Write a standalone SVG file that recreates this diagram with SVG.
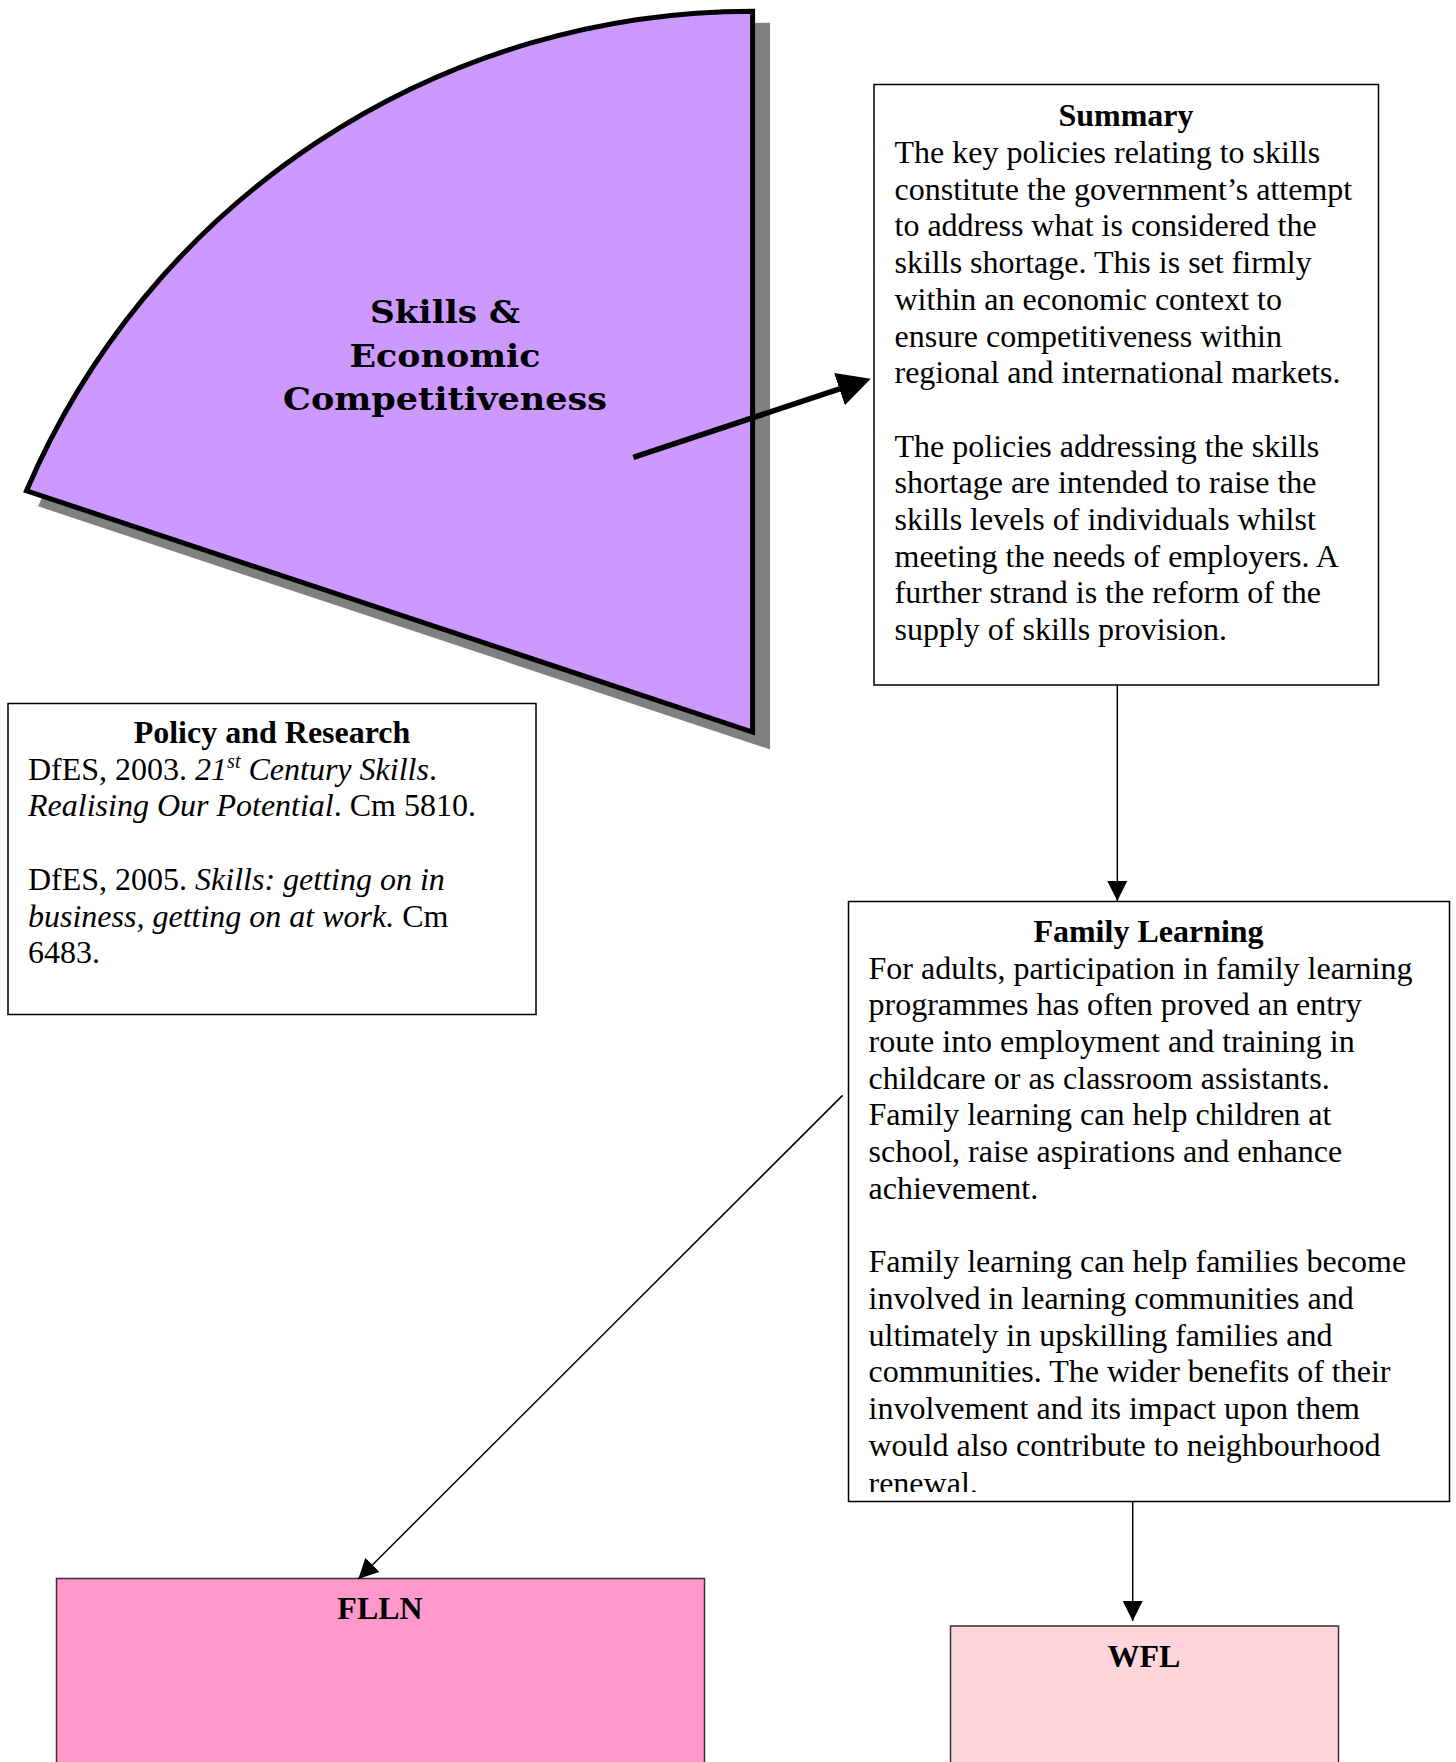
<svg xmlns="http://www.w3.org/2000/svg" width="1456" height="1762" viewBox="0 0 1456 1762">
  <style>
    .box { fill: #ffffff; stroke: #000000; stroke-width: 1.5; }
    .t { font-family: "Liberation Serif", "Times New Roman", serif; font-size: 32px; fill: #000000; }
    .title { font-family: "Liberation Serif", "Times New Roman", serif; font-size: 32px; font-weight: bold; text-anchor: middle; fill: #000000; }
    .sector-label { font-family: "DejaVu Serif", serif; font-size: 31px; font-weight: bold; text-anchor: middle; fill: #000000; }
    .conn { stroke: #000000; stroke-width: 1.5; fill: none; }
    .conn-thick { stroke: #000000; stroke-width: 5.5; fill: none; }
    .i { font-style: italic; }
  </style>
  <defs>
    <marker id="arrow" markerUnits="userSpaceOnUse" markerWidth="21" markerHeight="21" refX="20" refY="10" orient="auto">
      <path d="M0,0 L20,10 L0,20 Z" fill="#000000"/>
    </marker>
    <marker id="arrow-thick" markerUnits="userSpaceOnUse" markerWidth="36" markerHeight="36" refX="1" refY="17" orient="auto">
      <path d="M0,0 L33,17 L0,34 Z" fill="#000000"/>
    </marker>
    <clipPath id="fl-clip">
      <rect x="848" y="900" width="602" height="592"/>
    </clipPath>
  </defs>

  <!-- Sector node -->
  <g id="skills-sector">
    <path d="M767.6,25.2 L767.6,746 L41.5,504.8 A789.4 789.4 0 0 1 767.6,25.2 Z" fill="#808080" stroke="#808080" stroke-width="5"/>
    <path d="M752.6,11.2 L752.6,732 L26.5,490.8 A789.4 789.4 0 0 1 752.6,11.2 Z" fill="#CC99FF" stroke="#000000" stroke-width="5" stroke-linejoin="miter"/>
    <text class="sector-label" x="445" y="323" textLength="150" lengthAdjust="spacingAndGlyphs">Skills &amp;</text>
    <text class="sector-label" x="445" y="366.5" textLength="191" lengthAdjust="spacingAndGlyphs">Economic</text>
    <text class="sector-label" x="445" y="410" textLength="324" lengthAdjust="spacingAndGlyphs">Competitiveness</text>
  </g>

  <!-- Summary node -->
  <g id="summary">
    <rect class="box" x="874" y="84.5" width="504.5" height="600.5"/>
    <text class="title" x="1126" y="126">Summary</text>
    <text class="t" x="894.5" y="163">The key policies relating to skills</text>
    <text class="t" x="894.5" y="199.7">constitute the government’s attempt</text>
    <text class="t" x="894.5" y="236.4">to address what is considered the</text>
    <text class="t" x="894.5" y="273.1">skills shortage. This is set firmly</text>
    <text class="t" x="894.5" y="309.8">within an economic context to</text>
    <text class="t" x="894.5" y="346.5">ensure competitiveness within</text>
    <text class="t" x="894.5" y="383.2">regional and international markets.</text>
    <text class="t" x="894.5" y="456.6">The policies addressing the skills</text>
    <text class="t" x="894.5" y="493.3">shortage are intended to raise the</text>
    <text class="t" x="894.5" y="530">skills levels of individuals whilst</text>
    <text class="t" x="894.5" y="566.7">meeting the needs of employers. A</text>
    <text class="t" x="894.5" y="603.4">further strand is the reform of the</text>
    <text class="t" x="894.5" y="640.1">supply of skills provision.</text>
  </g>

  <!-- Policy and Research node -->
  <g id="policy-research">
    <rect class="box" x="8" y="703.5" width="528" height="311"/>
    <text class="title" x="272" y="742.6">Policy and Research</text>
    <text class="t" x="28" y="779.7">DfES, 2003. <tspan class="i">21</tspan><tspan class="i" font-size="20" dy="-12">st</tspan><tspan class="i" dy="12"> Century Skills</tspan>.</text>
    <text class="t" x="28" y="816.4"><tspan class="i">Realising Our Potential</tspan>. Cm 5810.</text>
    <text class="t" x="28" y="889.8">DfES, 2005. <tspan class="i">Skills: getting on in</tspan></text>
    <text class="t" x="28" y="926.5"><tspan class="i">business, getting on at work.</tspan> Cm</text>
    <text class="t" x="28" y="963.2">6483.</text>
  </g>

  <!-- Family Learning node -->
  <g id="family-learning">
    <rect class="box" x="848.5" y="901.5" width="601" height="600"/>
    <text class="title" x="1148.5" y="941.5">Family Learning</text>
    <g clip-path="url(#fl-clip)">
      <text class="t" x="868.5" y="978.6">For adults, participation in family learning</text>
      <text class="t" x="868.5" y="1015.3">programmes has often proved an entry</text>
      <text class="t" x="868.5" y="1052">route into employment and training in</text>
      <text class="t" x="868.5" y="1088.7">childcare or as classroom assistants.</text>
      <text class="t" x="868.5" y="1125.4">Family learning can help children at</text>
      <text class="t" x="868.5" y="1162.1">school, raise aspirations and enhance</text>
      <text class="t" x="868.5" y="1198.8">achievement.</text>
      <text class="t" x="868.5" y="1272.2">Family learning can help families become</text>
      <text class="t" x="868.5" y="1308.9">involved in learning communities and</text>
      <text class="t" x="868.5" y="1345.6">ultimately in upskilling families and</text>
      <text class="t" x="868.5" y="1382.3">communities. The wider benefits of their</text>
      <text class="t" x="868.5" y="1419">involvement and its impact upon them</text>
      <text class="t" x="868.5" y="1455.7">would also contribute to neighbourhood</text>
      <text class="t" x="868.5" y="1494">renewal.</text>
    </g>
  </g>

  <!-- FLLN node -->
  <g id="flln">
    <rect x="56.5" y="1578.5" width="648" height="220" fill="#FF99CC" stroke="#333333" stroke-width="1.5"/>
    <text class="title" x="380" y="1618.5">FLLN</text>
  </g>

  <!-- WFL node -->
  <g id="wfl">
    <rect x="950.5" y="1626" width="388" height="180" fill="#FFD5DC" stroke="#333333" stroke-width="1.5"/>
    <text class="title" x="1144" y="1666.7">WFL</text>
  </g>

  <!-- Connectors -->
  <g id="connectors">
    <line class="conn-thick" x1="633.3" y1="457.3" x2="840.4" y2="388.7" marker-end="url(#arrow-thick)"/>
    <line class="conn" x1="1117.3" y1="685" x2="1117.3" y2="901" marker-end="url(#arrow)"/>
    <line class="conn" x1="842.6" y1="1095.4" x2="358.3" y2="1579" marker-end="url(#arrow)"/>
    <line class="conn" x1="1132.7" y1="1501.5" x2="1132.7" y2="1621" marker-end="url(#arrow)"/>
  </g>
</svg>
